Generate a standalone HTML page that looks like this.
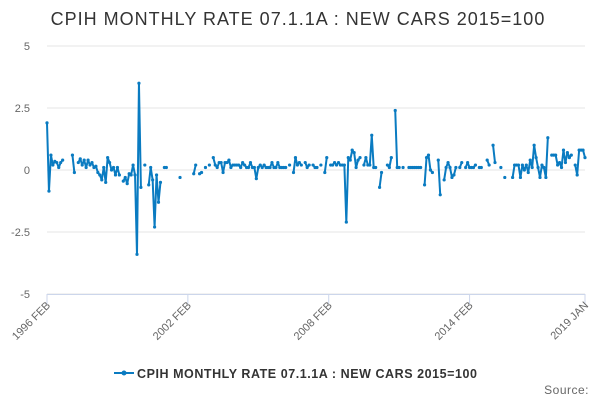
<!DOCTYPE html>
<html><head><meta charset="utf-8"><style>
body{margin:0;background:#fff;}
svg{font-family:"Liberation Sans",sans-serif;}
</style></head><body>
<svg id="chart" width="600" height="400">
<text x="298" y="25" text-anchor="middle" font-size="18" letter-spacing="1" fill="#333">CPIH MONTHLY RATE 07.1.1A : NEW CARS 2015=100</text>
<g id="grid"></g><g id="series"></g><g id="xaxis"></g>
<g>
<line x1="114" y1="373" x2="134" y2="373" stroke="#0a7bc1" stroke-width="2"/>
<circle cx="124" cy="373" r="2.5" fill="#0a7bc1"/>
<text x="137" y="378" font-size="12.5" font-weight="bold" letter-spacing="0.55" fill="#333">CPIH MONTHLY RATE 07.1.1A : NEW CARS 2015=100</text>
</g>
<text x="589" y="394" text-anchor="end" font-size="12" letter-spacing="0.5" fill="#666">Source:</text>
</svg>
<script>
const yTicks=[5,2.5,0,-2.5,-5];
const yTickLabels=["5","2.5","0","-2.5","-5"];
const xTickIdx=[0,72,144,216,275];
const xTickLabels=["1996 FEB","2002 FEB","2008 FEB","2014 FEB","2019 JAN"];
const N=null;
const values=[1.9,-0.85,0.6,0.2,0.35,0.3,0.1,0.3,0.4,N,N,N,N,0.6,-0.1,N,0.3,0.45,0.2,0.4,
0.1,0.4,0.2,0.3,0.1,0.15,-0.1,-0.2,-0.4,0.1,-0.5,0.5,0.3,0,0.1,-0.2,0.1,-0.2,N,-0.45,
-0.3,-0.55,-0.15,-0.2,0.2,-0.2,-3.4,3.5,-0.7,N,0.2,N,-0.6,0.1,-0.4,-2.3,-0.2,-1.3,-0.5,N,
0.1,0.1,N,N,N,N,N,N,-0.3,N,N,N,N,N,N,-0.15,0.2,N,-0.15,-0.1,
N,0.1,N,0.2,N,0.5,0.2,0.1,0.3,0.3,-0.1,0.3,0.3,0.4,0.1,0.2,0.2,0.2,0.2,0.1,
0.3,0.2,0.1,0.1,0.3,0.1,0.1,-0.35,0.1,0.2,0.1,0.2,0.1,0.1,0.1,0.3,0.1,0.1,0.3,0.1,
0.1,0.1,0.1,N,0.2,N,-0.1,0.5,0.2,0.3,0.2,N,0.3,0.1,0.2,N,0.2,0.1,0.1,N,
0.2,N,-0.1,0.5,N,0.2,0.2,0.3,0.2,0.3,0.2,0.2,0.2,-2.1,0.5,0.4,0.8,0.7,0.1,0.4,
0.5,N,0.2,0.5,0.2,0.2,1.4,0.1,0.1,N,-0.7,-0.1,N,N,0.2,0.1,0.5,N,2.4,0.1,
0.1,N,0.1,N,N,0.1,0.1,0.1,0.1,0.1,0.1,0.1,N,-0.6,0.5,0.6,0.0,-0.1,N,N,
0.4,-1.0,N,-0.4,0.1,0.3,0.1,-0.3,-0.2,0.1,N,0.1,0.3,N,0.1,0.3,0.1,0.1,0.1,0.2,
N,0.1,0.1,N,N,0.4,0.2,N,1.0,0.3,N,N,0.1,N,-0.3,N,N,N,-0.3,0.2,
0.2,0.2,-0.3,0.2,0.0,0.2,-0.1,0.4,0.1,1.0,0.5,0.1,-0.3,0.2,0.1,-0.3,1.3,N,0.6,0.6,
0.6,0.2,0.3,0.1,0.8,0.3,0.7,0.5,0.6,N,0.2,-0.2,0.8,0.8,0.8,0.5];
const NS="http://www.w3.org/2000/svg";
const X0=47,X1=585,Y0=170,YS=24.8;
const xs=i=>X0+i*(X1-X0)/(values.length-1);
const ys=v=>Y0-v*YS;
function mk(t,a,p){const e=document.createElementNS(NS,t);for(const k in a)e.setAttribute(k,a[k]);p.appendChild(e);return e;}
const grid=document.getElementById('grid');
yTicks.forEach((v,k)=>{
 const l=mk('line',{x1:X0,x2:X1,y1:ys(v),y2:ys(v),stroke:'#e6e6e6','stroke-width':1},grid);
 
 
 const t=mk('text',{x:30,y:ys(v)+4,'text-anchor':'end','font-size':11,fill:'#666'},grid);
 t.textContent=yTickLabels[k];
 
 
});
const xa=document.getElementById('xaxis');
const ax=mk('line',{x1:X0,x2:X1,y1:294.5,y2:294.5,stroke:'#ccd6eb'},xa);


xTickIdx.forEach((i,k)=>{
 const x=xs(i);
 const tk=mk('line',{x1:x,x2:x,y1:294,y2:304,stroke:'#ccd6eb'},xa);
 
 
 const t=mk('text',{x:x+4,y:306,'text-anchor':'end','font-size':11,fill:'#666',transform:`rotate(-45 ${x+4} 306)`},xa);
 t.textContent=xTickLabels[k];
 
 
});
const sg=document.getElementById('series');
let seg=[];
const flush=()=>{if(seg.length>1){const p=mk('polyline',{points:seg.join(' '),fill:'none',stroke:'#0a7bc1','stroke-width':2,'stroke-linejoin':'round'},sg);
 
 }seg=[];};
values.forEach((v,i)=>{if(v===null){flush();return;}seg.push(xs(i)+','+ys(v));});
flush();
values.forEach((v,i)=>{if(v===null)return;
 const c=mk('circle',{cx:xs(i),cy:ys(v),r:1.6,fill:'#0a7bc1'},sg);
 
 
});
</script>
</body></html>
